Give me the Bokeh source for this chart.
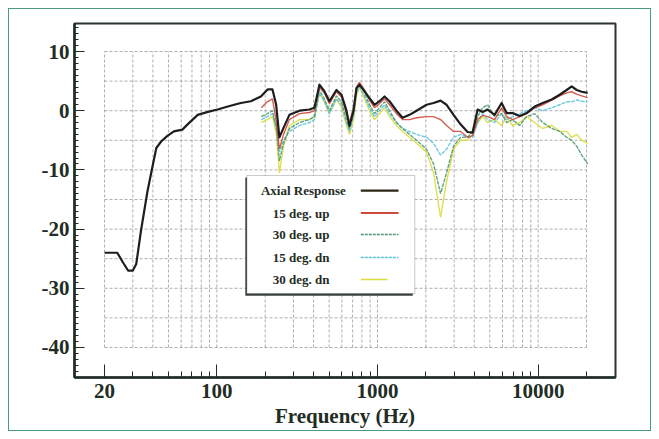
from bokeh.plotting import figure
from bokeh.models import FixedTicker, Range1d, Label, BoxAnnotation, Arrow
from bokeh.embed import file_html
from bokeh.resources import INLINE

# ---------------- data ----------------
axial_f = [20, 24, 26, 28, 30, 31.5, 33.7, 37, 40, 42,
           45, 49, 54, 61, 67, 76, 88, 101, 117, 141,
           163, 188, 207, 222, 234, 245, 260, 283, 327, 377,
           405, 435, 467, 502, 555, 597, 641, 669, 709, 740,
           772, 830, 892, 958, 1029, 1106, 1188, 1313, 1432, 1583,
           1750, 2020, 2233, 2469, 2691, 2975, 3289, 3637, 3908, 4200,
           4511, 4847, 5358, 5924, 6364, 6937, 7669, 8478, 9510, 10670,
           12140, 13610, 15050, 16170, 17370, 18670, 20340]
axial_db = [-24, -24, -25.6, -27, -27, -25.9, -20.3, -13.6, -9.1, -6.3,
            -5.2, -4.3, -3.5, -3.2, -2.1, -0.7, -0.2, 0.2, 0.7, 1.3,
            1.6, 2.4, 3.6, 3.6, 1.0, -4.5, -2.9, -0.7, 0.0, 0.2,
            0.5, 4.4, 3.3, 1.6, 3.5, 2.7, 0.0, -2.6, 0.0, 3.8,
            4.4, 3.3, 2.1, 1.0, 1.6, 2.4, 1.6, 0.0, -1.2, -0.7,
            0.0, 1.0, 1.3, 1.7, 1.0, -0.7, -2.3, -3.6, -3.7, 0.2,
            -0.2, 0.2, -0.7, 1.3, -0.4, -0.4, -0.9, -0.4, 0.7, 1.3,
            1.9, 2.7, 3.5, 4.1, 3.5, 3.2, 3.0]

off_f = [189, 206, 222, 235, 245, 260, 283, 327, 377, 405,
         435, 467, 502, 555, 597, 641, 669, 709, 740, 772,
         830, 892, 958, 1029, 1106, 1188, 1313, 1432, 1583, 1750,
         2020, 2233, 2469, 2691, 2975, 3289, 3637, 3908, 4200, 4511,
         4847, 5358, 5924, 6364, 6937, 7669, 8478, 9510, 10670, 12140,
         13610, 15050, 16170, 17370, 18670, 20340]
up15_db = [0.5, 1.5, 2.0, -2.0, -6.5, -4.0, -1.5, -0.5, -0.3, 0.0,
           4.0, 3.0, 1.2, 3.2, 2.3, -0.5, -2.0, 0.5, 4.0, 4.8,
           3.5, 1.8, 0.5, 1.2, 2.0, 1.0, -0.5, -1.5, -1.5, -1.2,
           -1.0, -1.0, -1.5, -2.5, -3.5, -3.5, -4.5, -4.2, -1.5, -0.8,
           -1.0, -1.5, 0.5, -1.0, -1.5, -1.0, -0.5, 0.5, 1.0, 1.8,
           2.5, 3.0, 3.2, 2.8, 2.5, 2.2]
up30_db = [-1.0, -0.5, 0.0, -3.0, -8.5, -5.5, -3.0, -2.0, -1.5, -1.0,
           3.5, 2.0, 0.0, 2.5, 1.5, -1.5, -3.0, -0.5, 3.5, 4.5,
           3.0, 1.0, -0.5, 0.5, 1.5, 0.0, -2.0, -3.0, -4.0, -5.0,
           -6.5, -9.0, -14.0, -10.5, -6.0, -4.5, -4.5, -3.5, -1.0, 0.5,
           1.0, -1.0, -0.5, -2.0, -1.5, -2.5, -1.0, -0.5, -2.0, -3.0,
           -3.5, -4.5, -5.0, -6.0, -7.5, -9.0]
dn15_db = [-1.5, -1.0, -0.5, -3.0, -7.0, -5.0, -3.5, -2.5, -2.0, -1.5,
           3.0, 1.5, -0.5, 2.0, 1.0, -2.0, -3.5, -1.0, 3.0, 4.0,
           2.5, 0.5, -1.0, 0.0, 1.0, -0.5, -2.0, -3.0, -3.5, -4.0,
           -4.5, -5.5, -7.5, -6.5, -4.5, -4.0, -4.5, -4.5, -2.0, -0.5,
           -1.5, -2.0, -0.5, -1.5, -1.0, -0.5, 0.0, 0.5, 0.0, 0.5,
           1.0, 1.5, 1.5, 1.8, 1.6, 1.5]
dn30_db = [-2.0, -1.5, -1.0, -4.0, -10.5, -6.0, -2.5, -1.5, -1.5, -1.0,
           3.0, 1.5, -0.5, 2.0, 0.5, -2.5, -4.0, -1.5, 2.5, 4.0,
           2.0, 0.0, -1.5, -0.5, 0.5, -1.0, -2.5, -3.5, -4.5, -5.5,
           -7.0, -10.5, -18.0, -12.0, -6.5, -5.0, -5.0, -4.0, -2.0, -1.0,
           -2.0, -1.5, -2.5, -1.0, -2.5, -2.0, -1.0, -2.0, -3.0, -2.5,
           -3.5, -3.5, -4.5, -4.0, -5.0, -5.5]

series_names = ["Axial Response", "15 deg. up", "30 deg. up", "15 deg. dn", "30 deg. dn"]

x_major = [20, 100, 1000, 10000]
x_major_labels = ["20", "100", "1000", "10000"]
x_minor = [30, 40, 50, 60, 70, 80, 90, 200, 300, 400, 500, 600, 700, 800, 900,
           2000, 3000, 4000, 5000, 6000, 7000, 8000, 9000, 20000]
x_grid = [20, 30, 40, 50, 60, 70, 80, 90, 100, 200, 300, 400, 500, 600, 700, 800, 900,
          1000, 2000, 3000, 4000, 5000, 6000, 7000, 8000, 9000, 10000, 20000]
y_major = [-40, -30, -20, -10, 0, 10]
y_major_labels = ["-40", "-30", "-20", "-10", "0", "10"]
y_minor = list(range(-45, 15))
y_grid = [10, 5, 0, -5, -10, -15, -20, -25, -30, -35, -40]

# ---------------- styles ----------------
INK = "#1f2d24"
FONT = "Liberation Serif"

p = figure(width=643, height=423, x_axis_type="log",
           x_range=Range1d(13.0, 30300), y_range=Range1d(-45.07, 14.73),
           output_backend="svg", toolbar_location=None,
           min_border_left=65, min_border_right=37, min_border_top=14, min_border_bottom=55)
p.styles = {"border": "1px solid #4a9c7c", "margin": "8px 0 0 8px"}
p.background_fill_color = "white"
p.border_fill_color = "white"
p.outline_line_color = "#2b352f"
p.outline_line_width = 2
p.xgrid.visible = False
p.ygrid.visible = False

# grid (dashed, inside 20 Hz..20 kHz, -40..10 dB)
p.multi_line(xs=[[g, g] for g in x_grid], ys=[[y_grid[-1], y_grid[0]] for g in x_grid],
             line_color="#9a9a9a", line_dash="3 2", line_width=1, line_alpha=0.8)
p.multi_line(xs=[[x_grid[0], x_grid[-1]] for h in y_grid], ys=[[h, h] for h in y_grid],
             line_color="#9a9a9a", line_dash="3 2", line_width=1, line_alpha=0.8)

# curves
p.line(off_f, dn30_db, line_color="#dcdc3c", line_width=1.4, line_alpha=0.9)
p.line(off_f, dn15_db, line_color="#5ec3dd", line_width=1.4, line_alpha=0.9, line_dash="4 1")
p.line(off_f, up30_db, line_color="#4f9a72", line_width=1.4, line_alpha=0.9, line_dash="4 1")
p.line(off_f, up15_db, line_color="#cf4a3c", line_width=1.4, line_alpha=0.9)
p.line(axial_f, axial_db, line_color="#1e1e1e", line_width=2.2, line_join="round")

# axes
for ax in (p.xaxis[0], p.yaxis[0]):
    ax.axis_line_color = INK
    ax.axis_line_width = 2.5
    ax.major_tick_line_color = INK
    ax.minor_tick_line_color = INK
    ax.major_tick_out = 0
    ax.minor_tick_out = 0
    ax.major_label_text_font = FONT
    ax.major_label_text_font_size = "21px"
    ax.major_label_text_font_style = "bold"
    ax.major_label_text_color = INK

p.xaxis.ticker = FixedTicker(ticks=x_major, minor_ticks=x_minor)
p.xaxis.major_label_overrides = {v: s for v, s in zip(x_major, x_major_labels)}
p.xaxis.major_tick_in = 13
p.xaxis.minor_tick_in = 6
p.xaxis.major_label_standoff = 6
p.xaxis.axis_label = "Frequency (Hz)"
p.xaxis.axis_label_text_font = FONT
p.xaxis.axis_label_text_font_size = "21px"
p.xaxis.axis_label_text_font_style = "bold"
p.xaxis.axis_label_text_color = INK
p.xaxis.axis_label_standoff = 3

p.yaxis.ticker = FixedTicker(ticks=y_major, minor_ticks=y_minor)
p.yaxis.major_label_overrides = {v: s for v, s in zip(y_major, y_major_labels)}
p.yaxis.major_tick_in = 10
p.yaxis.minor_tick_in = 4
p.yaxis.major_label_standoff = 5

p.add_layout(Label(x=5.77, y=-15.6, text="dB", text_font=FONT, text_font_size="21px",
                   text_font_style="bold", text_color=INK, text_align="left",
                   text_baseline="middle"))

# legend (label first, line sample to the right)
p.add_layout(BoxAnnotation(left=150.4, right=1658, top=-11.29, bottom=-31.24,
                           fill_color="#3a403c", fill_alpha=1.0, line_color=None))
p.add_layout(BoxAnnotation(left=153.9, right=1706, top=-10.95, bottom=-30.9,
                           fill_color="white", fill_alpha=1.0, line_color="#4a504c", line_width=1))
row_y = [-13.5, -17.3, -20.9, -24.8, -28.5]
text_x = [188, 223, 223, 223, 223]
sample_colors = ["#2e2418", "#cf4a3c", "#4f9a72", "#5ec3dd", "#dcdc3c"]
sample_dash = ["solid", "solid", "3 1", "3 1", "solid"]
sample_width = [2.2, 2.0, 1.5, 1.5, 1.5]
sample_end = [1351, 1351, 1351, 1351, 1153]
for name, yy, tx, c, d, w, xe in zip(series_names, row_y, text_x, sample_colors,
                                     sample_dash, sample_width, sample_end):
    p.add_layout(Label(x=tx, y=yy, text=name, text_font=FONT, text_font_size="13px",
                       text_font_style="bold", text_color=INK, text_align="left",
                       text_baseline="middle"))
    p.add_layout(Arrow(end=None, start=None, x_start=787, y_start=yy, x_end=xe, y_end=yy,
                       line_color=c, line_width=w, line_dash=d))

open("out.html", "w").write(file_html(p, INLINE))
